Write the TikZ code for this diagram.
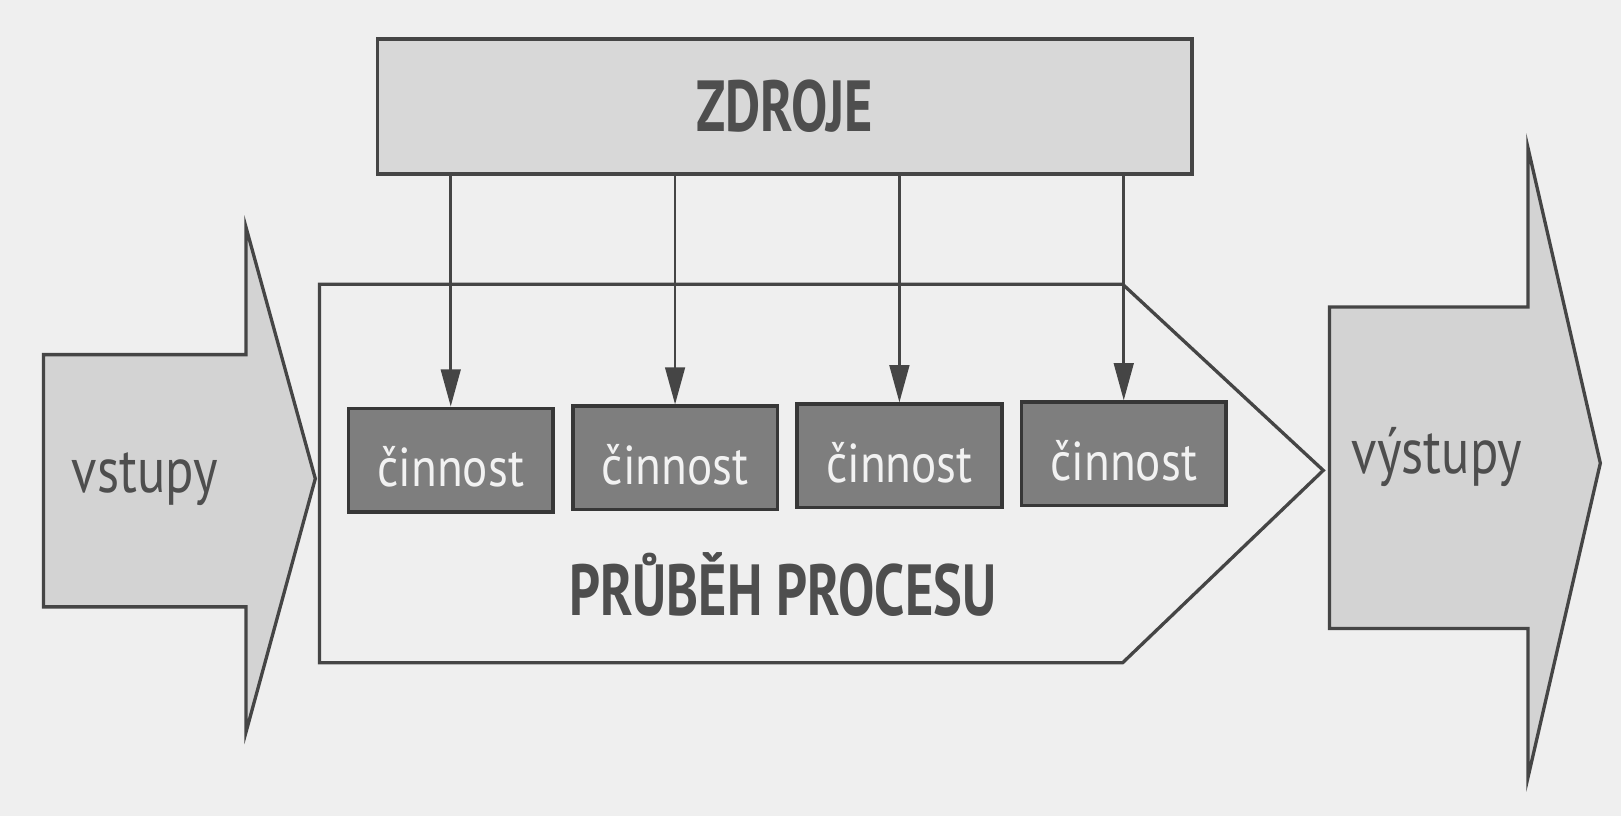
\documentclass[tikz,border=0pt]{standalone}
\usepackage{fontspec}
\setmainfont{PT Sans}
\newfontfamily\regc{PT Sans}[FakeStretch=0.82]
\newfontfamily\actc{PT Sans}[FakeStretch=0.86]
\newfontfamily\boldc{PT Sans}[FakeStretch=0.75]
\usetikzlibrary{arrows.meta}
\definecolor{bg}{HTML}{EFEFEF}
\definecolor{edge}{HTML}{454545}
\definecolor{lightfill}{HTML}{D8D8D8}
\definecolor{arrowfill}{HTML}{D3D3D3}
\definecolor{darkfill}{HTML}{7E7E7E}
\definecolor{txt}{HTML}{4E4E4E}
\tikzset{
  res/.style={draw=edge, line width=3.5pt, fill=lightfill, minimum width=788pt, minimum height=131pt,
    inner sep=0pt, text=txt, font=\boldc\bfseries\fontsize{70}{80}\selectfont, text height=48pt, text depth=0pt},
  act/.style={draw=edge!80!black, line width=3.5pt, fill=darkfill, minimum width=198pt, minimum height=100pt,
    inner sep=0pt, text=white!95!black, font=\actc\fontsize{53}{60}\selectfont, text height=52pt, text depth=0pt},
  bigarrow/.style={draw=edge, line width=3.2pt, fill=arrowfill, line join=miter},
  procshape/.style={draw=edge, line width=3.2pt, line join=miter},
  lbl/.style={anchor=base, inner sep=0pt, text=txt, font=\regc\fontsize{62}{70}\selectfont},
  proclbl/.style={anchor=base, inner sep=0pt, text=txt, font=\boldc\bfseries\fontsize{70}{80}\selectfont},
  conn/.style={draw=edge, line width=2.6pt, -{Triangle[length=36pt,width=19pt]}}
}
\begin{document}
\begin{tikzpicture}[x=1pt,y=-1pt]
\useasboundingbox (0,0) rectangle (1568,789);
\fill[bg] (0,0) rectangle (1568,789);

% input arrow
\draw[bigarrow] (42,343) -- (238,343) -- (238,220) -- (305,463) -- (238,708) -- (238,587) -- (42,587) -- cycle;
\node[lbl] (vstupy) at (140,476) {vstupy};

% output arrow
\draw[bigarrow] (1286,297) -- (1478,297) -- (1478,143) -- (1548,448) -- (1478,752) -- (1478,608) -- (1286,608) -- cycle;
\node[lbl] (vystupy) at (1390,458) {výstupy};

% process pentagon
\draw[procshape] (309,275) -- (1086,275) -- (1280,455) -- (1086,641) -- (309,641) -- cycle;
\node[proclbl] (proces) at (757,595) {PRŮBĚH PROCESU};

% resources
\node[res] (zdroje) at (759,103) {ZDROJE};

% activities
\node[act] (c1) at (436,445) {činnost};
\node[act] (c2) at (653,443) {činnost};
\node[act] (c3) at (870,441) {činnost};
\node[act] (c4) at (1087,439) {činnost};

% connectors
\foreach \c in {c1,c2,c3,c4}
  \draw[conn] (zdroje.south -| \c.north) -- (\c.north);
\end{tikzpicture}
\end{document}
